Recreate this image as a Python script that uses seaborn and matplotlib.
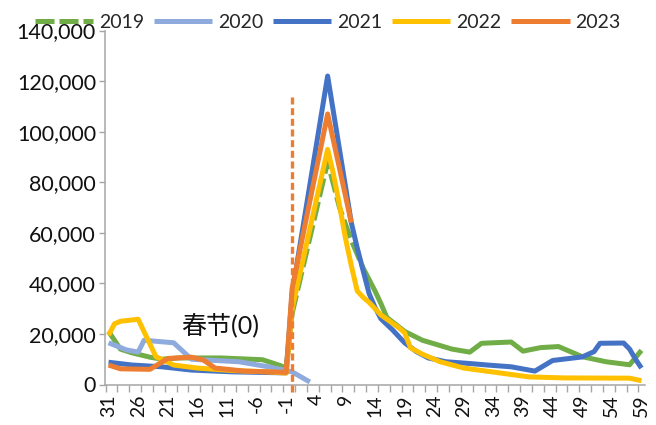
import numpy as np
import pandas as pd
import matplotlib
matplotlib.use("Agg")
import matplotlib.pyplot as plt
import seaborn as sns
from matplotlib.lines import Line2D
from matplotlib.ticker import FuncFormatter

sns.set_theme(style="white")
plt.rcParams["font.family"] = ["Lato", "Noto Sans CJK SC", "DejaVu Sans"]

# Daily values around the Spring Festival (day 0)
days_2019 = [-31, -29, -27, -24, -22, -19, -12, -5, -2, -1, 0, 6, 8, 10, 12, 14, 15, 16, 19,
             22, 27, 30, 32, 37, 39, 42, 45, 49, 53, 57, 59]
vals_2019 = [21000, 14000, 12500, 10800, 10000, 10500, 10500, 9800, 7500, 6500, 28000, 88000,
             70000, 57000, 46000, 37000, 32000, 26500, 21000, 17500, 14000, 12800, 16300, 16800,
             13200, 14600, 15000, 11000, 9000, 7800, 13500]

days_2020 = [-31, -28, -26, -25, -20, -17, -9, -4, -1, 0, 3]
vals_2020 = [16500, 13700, 12800, 17500, 16500, 10000, 9000, 7000, 5500, 5000, 1000]

days_2021 = [-31, -27, -22, -17, -10, -1, 0, 6, 10, 11, 12, 13, 14, 15, 17, 19, 21, 23, 26,
             30, 33, 37, 41, 44, 49, 51, 52, 56, 57, 58, 59]
vals_2021 = [8800, 7700, 7000, 5700, 5000, 4600, 36000, 122000, 64000, 54000, 45000, 36000,
             30500, 26000, 21500, 16500, 13000, 10500, 9000, 8300, 7700, 7000, 5300, 9500,
             10900, 13000, 16300, 16400, 14000, 10000, 6500]

days_2022 = [-31, -30, -29, -26, -23, -20, -16, -10, -4, -1, 0, 6, 7, 8, 9, 10, 11, 12, 13,
             15, 18, 19, 20, 22, 25, 29, 35, 40, 46, 57, 59]
vals_2022 = [19500, 24000, 25000, 25800, 11000, 7700, 6500, 5500, 5000, 4500, 30000, 93000,
             83000, 71000, 58000, 47000, 37000, 34500, 32500, 27500, 22500, 20500, 14500,
             12000, 9000, 6500, 4600, 3000, 2600, 2500, 1500]

days_2023 = [-31, -29, -24, -21, -17, -15, -13, -8, -1, 0, 6, 10]
vals_2023 = [7700, 6200, 6000, 10300, 10800, 9700, 6500, 5300, 4800, 38000, 107000, 64000]

years = ["2019", "2020", "2021", "2022", "2023"]
colors = ["#70AD47", "#8FAADC", "#4472C4", "#FFC000", "#ED7D31"]

tick_days = list(range(-31, 60, 5))
tick_labels = ["31", "26", "21", "16", "11", "-6", "-1", "4", "9", "14", "19", "24", "29",
               "34", "39", "44", "49", "54", "59"]

series = {
    "2019": (days_2019, vals_2019),
    "2020": (days_2020, vals_2020),
    "2021": (days_2021, vals_2021),
    "2022": (days_2022, vals_2022),
    "2023": (days_2023, vals_2023),
}
df = pd.concat(
    [pd.DataFrame({"day": d, "value": v, "year": y}) for y, (d, v) in series.items()],
    ignore_index=True,
)

fig = plt.figure(figsize=(6.56, 4.25), dpi=100)
ax = fig.add_axes([105 / 656, 1 - 384.5 / 425, 540 / 656, 354 / 425])

LW = 3.6
dash_19 = (3.8, 1.0)
line_kw = dict(linewidth=LW, solid_joinstyle="round", dash_joinstyle="round",
               solid_capstyle="butt", estimator=None, sort=False, legend=False)

for year, color in zip(years, colors):
    sub = df[df["year"] == year]
    if year == "2019":
        # the holiday stretch of 2019 is drawn dashed
        pre = sub[sub["day"] <= 0]
        mid = sub[(sub["day"] >= 0) & (sub["day"] <= 12)]
        post = sub[sub["day"] >= 12]
        sns.lineplot(data=pre, x="day", y="value", color=color, ax=ax, **line_kw)
        sns.lineplot(data=mid, x="day", y="value", color=color, ax=ax,
                     dashes=False, **line_kw)
        ax.lines[-1].set_dashes(dash_19)
        sns.lineplot(data=post, x="day", y="value", color=color, ax=ax, **line_kw)
    else:
        sns.lineplot(data=sub, x="day", y="value", color=color, ax=ax, **line_kw)

# Spring Festival marker
ax.vlines(0, -3000, 114500, colors="#ED7D31", linewidth=2.4, linestyles=(0, (2.1, 1.1)),
          clip_on=False, zorder=5)
ax.text(-12.1, 23600, "春节(0)", fontsize=18, ha="center", va="center", color="#111111")

ax.set_xlim(-31.6, 59.6)
ax.set_ylim(0, 140000)
ax.set_xticks(tick_days)
ax.set_xticklabels(tick_labels, rotation=90, fontsize=14, color="#111111")
ax.set_xticks(np.arange(-31.5, 59.6, 2), minor=True)
ax.set_yticks(range(0, 140001, 20000))
ax.yaxis.set_major_formatter(FuncFormatter(lambda v, p: f"{int(v):,}"))
for lab in ax.get_yticklabels():
    lab.set_fontsize(15.5)
    lab.set_color("#111111")
ax.set_xlabel("")
ax.set_ylabel("")

axis_gray = "#A6A6A6"
for s in ["top", "right"]:
    ax.spines[s].set_visible(False)
for s in ["left", "bottom"]:
    ax.spines[s].set_color(axis_gray)
    ax.spines[s].set_linewidth(1.1)
ax.tick_params(axis="x", which="major", length=0, pad=7)
ax.tick_params(axis="x", which="minor", length=5, width=1.0, color=axis_gray, direction="out",
               bottom=True)
ax.tick_params(axis="y", which="major", length=4.5, width=1.0, color=axis_gray, direction="out",
               pad=2, left=True)

handles = []
for year, color in zip(years, colors):
    h = Line2D([], [], color=color, linewidth=LW, solid_capstyle="butt")
    if year == "2019":
        h.set_dashes(dash_19)
    handles.append(h)
fig.legend(handles, years, loc="center left", bbox_to_anchor=(35 / 656, 1 - 22 / 425),
           ncol=5, frameon=False, fontsize=14, handlelength=3.0, handletextpad=0.3,
           columnspacing=0.5, borderpad=0, borderaxespad=0)

fig.savefig("out.png", dpi=100)
